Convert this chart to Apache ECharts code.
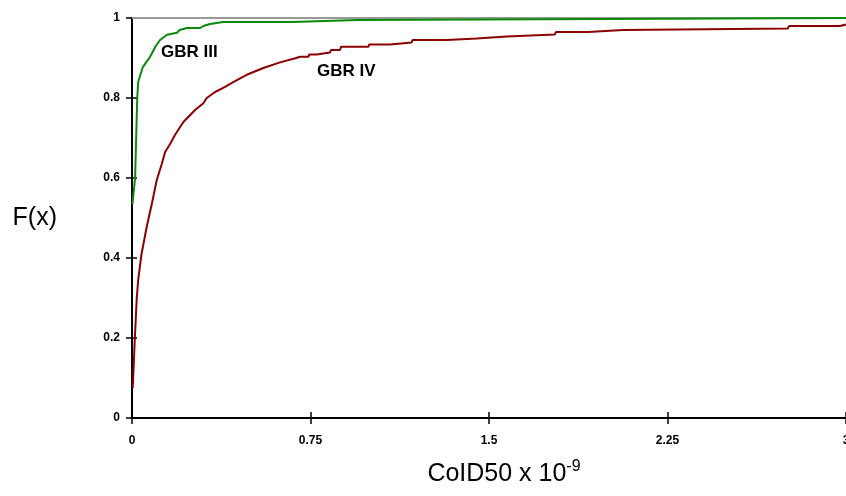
<!DOCTYPE html>
<html><head><meta charset="utf-8">
<script src="https://cdn.jsdelivr.net/npm/echarts@6/dist/echarts.min.js"></script>
<style>html,body{margin:0;padding:0;background:#fff}#c{width:846px;height:496px}</style>
</head><body><div id="c"></div>
<script>
const xTicks = [0, 0.75, 1.5, 2.25, 3];
const yTicks = [0, 0.2, 0.4, 0.6, 0.8, 1];
const gbr3 = [[0.002,0.535],[0.01,0.54],[0.013,0.6],[0.022,0.8],[0.026,0.84],[0.046,0.878],[0.076,0.903],[0.1,0.93],[0.118,0.945],[0.147,0.958],[0.189,0.963],[0.2,0.97],[0.231,0.975],[0.286,0.975],[0.3,0.98],[0.328,0.985],[0.382,0.99],[0.67,0.99],[0.675,0.995],[0.948,0.995],[0.951,1.0],[3.0,1.0]];
const gbr4 = [[0.003,0.075],[0.012,0.2],[0.02,0.3],[0.026,0.345],[0.04,0.41],[0.062,0.478],[0.085,0.54],[0.104,0.595],[0.125,0.635],[0.139,0.665],[0.16,0.685],[0.181,0.708],[0.216,0.74],[0.265,0.77],[0.3,0.787],[0.314,0.8],[0.349,0.815],[0.391,0.828],[0.433,0.842],[0.482,0.858],[0.552,0.875],[0.622,0.889],[0.69,0.9],[0.706,0.903],[0.741,0.903],[0.745,0.909],[0.776,0.909],[0.78,0.914],[0.832,0.914],[0.836,0.92],[0.874,0.92],[0.878,0.928],[0.993,0.928],[0.997,0.934],[1.084,0.934],[1.088,0.939],[1.175,0.939],[1.179,0.945],[1.322,0.945],[1.326,0.949],[1.448,0.949],[1.452,0.954],[1.574,0.954],[1.578,0.959],[1.777,0.959],[1.781,0.965],[1.916,0.965],[1.92,0.97],[2.063,0.97],[2.067,0.974],[2.756,0.974],[2.76,0.98],[2.975,0.98],[2.98,0.984],[3.0,0.984]];
const refLine = [[0,1],[3,1]];
const labels = {gbr3: 'GBR III', gbr4: 'GBR IV'};

const chart = echarts.init(document.getElementById('c'));
const FF = 'Arial, Liberation Sans, sans-serif';
const lblStyle = {color:'#000', fontFamily:FF, fontWeight:'bold', fontSize:12};
chart.setOption({
  animation:false,
  grid:{left:132, right:0, top:18, bottom:78, containLabel:false, outerBoundsMode:'none'},
  xAxis:[{type:'value', min:0, max:3, interval:0.75,
    axisLine:{lineStyle:{color:'#000', width:2}},
    axisTick:{show:true, length:6, inside:false, lineStyle:{color:'#000', width:1.5}},
    axisLabel:Object.assign({margin:17, hideOverlap:false, formatter: v => xTicks.includes(v) ? String(v) : ''}, lblStyle),
    splitLine:{show:false},
    name:'CoID50 x 10{sup|-9}', nameLocation:'middle', nameGap:41,
    nameTextStyle:{color:'#000', fontFamily:FF, fontSize:25, padding:[0,0,0,30],
      rich:{sup:{fontSize:16, fontFamily:FF, color:'#000', padding:[0,0,14,0]}}}
  },{type:'value', min:0, max:3, interval:0.75, position:'bottom',
    axisLine:{show:false}, axisTick:{show:true, length:6, inside:true, lineStyle:{color:'#000', width:1.5}},
    axisLabel:{show:false}, splitLine:{show:false}}],
  yAxis:[{type:'value', min:0, max:1, interval:0.2,
    axisLine:{show:true, lineStyle:{color:'#000', width:2}},
    axisTick:{show:true, length:6, inside:false, lineStyle:{color:'#000', width:1.5}},
    axisLabel:Object.assign({margin:12, formatter: v => yTicks.includes(Math.round(v*10)/10) ? String(Math.round(v*10)/10) : ''}, lblStyle),
    splitLine:{show:false},
    name:'F(x)', nameLocation:'middle', nameGap:75, nameRotate:0,
    nameTextStyle:{color:'#000', fontFamily:FF, fontSize:25}
  },{type:'value', min:0, max:1, interval:0.2, position:'left',
    axisLine:{show:false}, axisTick:{show:true, length:5, inside:true, lineStyle:{color:'#000', width:1.5}},
    axisLabel:{show:false}, splitLine:{show:false}}],
  series:[
    {type:'line', data:refLine, showSymbol:false, z:1, lineStyle:{color:'#999', width:2}},
    {type:'line', name:labels.gbr3, data:gbr3, showSymbol:false, z:3, lineStyle:{color:'#0a8a0a', width:2}},
    {type:'line', name:labels.gbr4, data:gbr4, showSymbol:false, z:2, lineStyle:{color:'#8b0000', width:2}}
  ],
  graphic:[
    {type:'text', left:161, top:44, style:{text:labels.gbr3, fill:'#000', font:'bold 17px ' + FF}},
    {type:'text', left:317, top:63, style:{text:labels.gbr4, fill:'#000', font:'bold 17px ' + FF}}
  ]
});
</script></body></html>
